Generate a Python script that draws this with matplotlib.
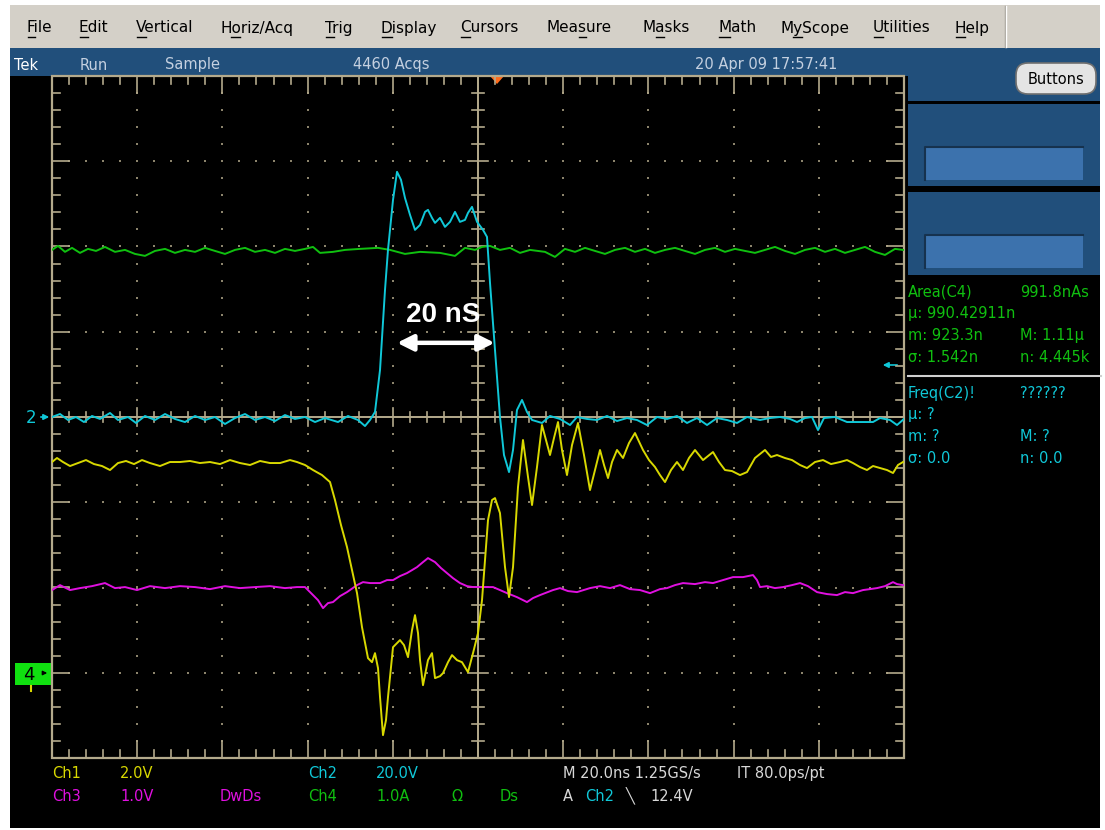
import numpy as np
import matplotlib.pyplot as plt
from matplotlib.patches import Rectangle, FancyBboxPatch, Polygon
from matplotlib.textpath import TextPath
from matplotlib.font_manager import FontProperties

# time axis in ns (20 ns/div, centre of screen = 0), levels in screen divisions
ch2_t = [-100.0, -98.12, -96.24, -94.37, -92.49, -90.61, -88.73, -86.38, -84.51, -82.16,
         -80.28, -78.17, -75.82, -73.47, -71.13, -68.78, -66.43, -64.08, -61.74, -59.39,
         -57.04, -54.69, -52.35, -50.0, -47.65, -45.31, -42.96, -40.61, -38.26, -35.92,
         -32.86, -30.52, -28.17, -26.53, -25.35, -24.18, -23.0, -21.83, -21.13, -19.95,
         -19.01, -18.08, -17.14, -15.96, -14.79, -13.61, -12.44, -11.74, -10.8, -10.09,
         -8.92, -7.75, -6.57, -5.4, -4.23, -3.05, -2.35, -1.41, -0.23, 1.17,
         2.11, 2.82, 3.99, 5.16, 6.1, 7.28, 8.22, 9.15, 10.33, 11.5,
         12.68, 15.02, 16.9, 19.25, 21.6, 23.24, 25.59, 27.93, 30.28, 32.63,
         34.98, 37.32, 39.67, 42.02, 44.37, 46.71, 49.06, 51.41, 53.76, 56.1,
         58.45, 60.8, 63.15, 66.2, 68.54, 70.89, 73.24, 74.88, 76.76, 78.4,
         79.81, 81.22, 83.8, 86.62, 89.67, 92.72, 94.37, 96.71, 98.36, 100.0]
ch2_div = [0, 0.035, -0.035, 0, -0.059, 0.012, -0.023, 0.047, -0.035, 0,
           -0.070, 0.012, -0.035, 0.035, -0.023, -0.059, 0.012, -0.035, 0, -0.082,
           -0.012, 0.035, -0.035, 0, -0.047, 0.023, -0.023, 0, -0.059, -0.012,
           -0.059, 0.012, -0.035, -0.106, -0.035, 0.059, 0.552, 1.491, 1.960, 2.547,
           2.876, 2.782, 2.570, 2.371, 2.195, 2.253, 2.406, 2.430, 2.336, 2.277,
           2.336, 2.230, 2.289, 2.406, 2.289, 2.312, 2.394, 2.465, 2.289, 2.195,
           2.113, 1.573, 0.786, 0, -0.446, -0.646, -0.387, 0.082, 0.200, 0.059,
           -0.035, -0.070, 0.012, -0.023, -0.094, 0, -0.023, -0.035, 0.012, -0.047,
           -0.012, -0.035, -0.094, 0, -0.023, 0.012, -0.070, -0.012, -0.094, -0.012,
           -0.035, -0.070, 0, -0.035, -0.012, 0, -0.023, -0.059, -0.012, 0,
           -0.153, -0.012, 0, -0.059, -0.059, -0.059, -0.012, -0.035, -0.094, -0.023]

ch1_t = [-100.0, -98.83, -97.42, -95.77, -93.9, -92.02, -90.14, -88.26, -86.38, -84.51,
         -82.63, -80.75, -78.87, -77.0, -74.65, -72.3, -69.95, -67.61, -65.26, -62.91,
         -60.56, -58.22, -55.87, -53.52, -51.17, -48.83, -46.48, -44.13, -42.49, -40.61,
         -38.73, -36.62, -34.74, -33.57, -32.16, -30.75, -29.58, -28.4, -27.23, -25.82,
         -24.88, -24.18, -23.47, -23.0, -22.3, -21.6, -21.13, -19.95, -18.31, -17.37,
         -16.43, -15.49, -14.79, -14.08, -13.61, -12.91, -11.74, -10.8, -10.09, -8.92,
         -8.22, -7.04, -6.1, -4.93, -3.76, -2.35, -1.17, 0.0, 0.94, 1.64,
         2.35, 3.29, 3.99, 5.16, 6.34, 7.28, 8.22, 9.39, 10.56, 11.74,
         12.68, 13.85, 15.02, 15.96, 16.9, 17.84, 18.78, 19.72, 20.89, 22.07,
         23.47, 24.88, 26.29, 27.46, 28.64, 29.58, 30.52, 31.46, 32.63, 34.04,
         35.45, 36.85, 38.73, 40.14, 41.55, 42.72, 43.9, 45.31, 46.71, 48.12,
         49.53, 50.94, 52.82, 55.16, 56.57, 57.98, 59.62, 61.5, 63.15, 65.02,
         67.37, 68.78, 70.19, 72.06, 73.71, 75.59, 77.23, 79.11, 80.99, 82.86,
         84.98, 86.62, 88.03, 89.67, 91.31, 92.72, 94.37, 96.01, 97.42, 98.59,
         99.77]
ch1_div = [-0.528, -0.481, -0.528, -0.575, -0.540, -0.505, -0.552, -0.575, -0.622, -0.540,
           -0.516, -0.552, -0.505, -0.540, -0.575, -0.528, -0.528, -0.516, -0.540, -0.528,
           -0.552, -0.505, -0.540, -0.563, -0.516, -0.540, -0.540, -0.505, -0.528, -0.563,
           -0.622, -0.681, -0.763, -0.974, -1.268, -1.526, -1.796, -2.066, -2.465, -2.829,
           -2.876, -2.770, -2.946, -3.286, -3.732, -3.556, -3.286, -2.700, -2.617, -2.676,
           -2.817, -2.500, -2.324, -2.535, -2.852, -3.146, -2.852, -2.770, -3.063, -3.040,
           -3.005, -2.876, -2.793, -2.852, -2.876, -2.993, -2.770, -2.535, -2.148, -1.678,
           -1.209, -0.974, -0.951, -1.127, -1.761, -2.113, -1.761, -0.822, -0.270, -0.704,
           -1.033, -0.587, -0.094, -0.270, -0.446, -0.246, -0.059, -0.387, -0.681, -0.329,
           -0.070, -0.446, -0.857, -0.622, -0.387, -0.563, -0.716, -0.528, -0.387, -0.481,
           -0.305, -0.188, -0.387, -0.505, -0.587, -0.681, -0.763, -0.622, -0.528, -0.622,
           -0.481, -0.387, -0.505, -0.411, -0.528, -0.622, -0.634, -0.681, -0.646, -0.481,
           -0.387, -0.469, -0.446, -0.481, -0.505, -0.563, -0.599, -0.528, -0.505, -0.552,
           -0.528, -0.505, -0.540, -0.587, -0.622, -0.575, -0.599, -0.622, -0.657, -0.563,
           -0.528]

ch3_t = [-100.0, -98.12, -95.77, -93.43, -90.61, -87.56, -85.21, -82.86, -80.05, -77.0,
         -73.47, -69.95, -66.43, -62.91, -59.39, -55.87, -52.35, -48.83, -45.31, -42.49,
         -40.61, -38.73, -37.56, -36.38, -35.21, -34.04, -32.39, -30.75, -28.4, -27.0,
         -25.35, -23.0, -21.36, -19.95, -18.31, -16.67, -15.49, -14.32, -12.91, -11.74,
         -10.09, -8.69, -7.28, -5.87, -4.23, -2.58, -1.17, 1.17, 3.52, 5.16,
         6.81, 9.15, 11.5, 12.91, 14.55, 17.61, 19.25, 21.13, 23.24, 26.29,
         28.64, 30.99, 33.33, 35.68, 38.03, 40.38, 42.72, 44.37, 46.24, 48.12,
         50.94, 53.29, 55.16, 57.51, 59.86, 62.21, 64.55, 65.49, 66.2, 67.84,
         69.72, 71.6, 73.71, 75.59, 77.46, 79.58, 81.92, 84.27, 86.15, 88.03,
         90.38, 92.02, 93.66, 95.54, 97.42, 98.36, 99.77]
ch3_div = [-2.030, -1.972, -2.030, -2.007, -1.984, -1.948, -2.007, -1.995, -2.030, -1.984,
           -2.007, -1.984, -1.995, -2.019, -1.984, -2.007, -1.995, -1.984, -2.007, -1.995,
           -1.995, -2.089, -2.148, -2.242, -2.183, -2.171, -2.101, -2.054, -1.972, -1.937,
           -1.948, -1.948, -1.913, -1.913, -1.866, -1.831, -1.796, -1.761, -1.702, -1.655,
           -1.702, -1.772, -1.831, -1.890, -1.948, -1.984, -1.995, -1.995, -1.995, -2.030,
           -2.066, -2.113, -2.171, -2.124, -2.089, -2.030, -2.007, -2.042, -2.054, -2.007,
           -1.984, -2.007, -1.972, -2.019, -2.030, -2.066, -2.019, -2.007, -1.972, -1.948,
           -1.960, -1.937, -1.948, -1.913, -1.878, -1.878, -1.854, -1.913, -1.995, -1.984,
           -2.007, -1.995, -1.972, -1.948, -1.984, -2.054, -2.077, -2.089, -2.054, -2.066,
           -2.030, -2.019, -2.007, -1.984, -1.937, -1.960, -1.972]

ch4_t = [-100.0, -98.59, -96.95, -95.3, -93.43, -91.55, -89.67, -87.56, -85.21, -82.86,
         -80.52, -78.17, -75.82, -73.47, -71.13, -68.78, -66.43, -64.08, -61.74, -59.39,
         -57.04, -54.69, -52.35, -50.0, -47.65, -45.31, -42.96, -40.61, -38.73, -37.09,
         -34.04, -31.22, -27.7, -23.47, -20.66, -17.14, -13.61, -8.92, -5.4, -3.05,
         -0.7, 0.94, 2.82, 5.16, 7.51, 9.86, 12.21, 15.73, 18.07, 20.42,
         22.77, 25.12, 27.46, 29.81, 32.16, 34.51, 36.85, 39.2, 41.55, 43.9,
         46.24, 48.59, 50.94, 53.29, 55.63, 57.98, 60.33, 62.68, 65.02, 67.37,
         69.72, 72.06, 74.41, 76.76, 79.11, 81.46, 83.8, 86.15, 88.5, 90.84,
         93.19, 95.54, 97.89, 99.77]
ch4_div = [1.960, 2.007, 1.937, 1.984, 1.925, 1.972, 1.948, 1.995, 1.937, 1.960,
           1.913, 1.890, 1.948, 1.972, 1.925, 1.960, 1.937, 1.984, 1.948, 1.913,
           1.960, 1.984, 1.937, 1.960, 1.925, 1.972, 1.948, 1.972, 1.995, 1.925,
           1.937, 1.960, 1.972, 1.984, 1.960, 1.913, 1.937, 1.925, 1.890, 1.984,
           1.960, 1.995, 2.007, 1.960, 1.984, 1.925, 1.960, 1.937, 1.878, 1.972,
           1.937, 1.984, 1.948, 1.913, 1.960, 1.984, 1.937, 1.972, 1.925, 1.960,
           1.984, 1.948, 1.913, 1.960, 1.984, 1.937, 1.972, 1.948, 1.925, 1.960,
           1.995, 1.948, 1.913, 1.960, 1.984, 1.937, 1.972, 1.925, 1.960, 1.995,
           1.937, 1.901, 1.972, 1.960]

menu_items = ["File", "Edit", "Vertical", "Horiz/Acq", "Trig", "Display", "Cursors",
              "Measure", "Masks", "Math", "MyScope", "Utilities", "Help"]
menu_hotkey = [0, 0, 0, 1, 0, 0, 0, 3, 1, 0, 1, 0, 0]
menu_x = [27, 79, 136, 220, 325, 381, 460, 547, 643, 718, 780, 873, 955]

YELLOW = '#d8d800'
CYAN = '#10c8d8'
MAGENTA = '#e010e0'
GREEN = '#10c010'
GRID = '#b4aa8c'
DOT = '#8c846c'
BAR = '#214f7b'
FONT = 'DejaVu Sans'

fig = plt.figure(figsize=(11.05, 8.30), dpi=100)
fig.patch.set_facecolor('white')

ui = fig.add_axes([0, 0, 1, 1])
ui.set_xlim(0, 1105)
ui.set_ylim(830, 0)
ui.axis('off')


def box(x0, y0, x1, y1, color, z=1, **kw):
    ui.add_patch(Rectangle((x0, y0), x1 - x0, y1 - y0, facecolor=color,
                           edgecolor='none', zorder=z, **kw))


# window chrome
box(10, 76, 1100, 828, 'black')
box(10, 5, 1100, 48, '#d4d0c8')
ui.plot([1005, 1005], [6, 47], color='#a09c94', lw=1)
ui.plot([1006, 1006], [6, 47], color='white', lw=1)
box(10, 48, 1100, 76, BAR)
box(905, 48, 1100, 280, BAR)
box(905, 76, 908, 280, 'black', z=2)
box(905, 101, 1100, 104, 'black', z=2)
box(905, 186, 1100, 192, 'black', z=2)
box(905, 275, 1100, 280, 'black', z=2)
for y0, y1 in [(147, 180), (235, 268)]:
    box(925, y0, 1083, y1, '#3c72ad', z=3)
    ui.plot([925, 925, 1083], [y1, y0, y0], color='#16324e', lw=1.5, zorder=4)

btn = FancyBboxPatch((1016, 63), 80, 31, boxstyle='round,pad=0,rounding_size=12',
                     facecolor='#e4e4e4', edgecolor='#707070', lw=1.2, zorder=3)
ui.add_patch(btn)
ui.text(1056, 79, 'Buttons', ha='center', va='center', fontsize=10.5,
        family=FONT, color='black', zorder=4)

# menu bar with underlined access keys
menu_font = FontProperties(family=FONT, size=11)
px_per_pt = 100 / 72
for label, hot, x in zip(menu_items, menu_hotkey, menu_x):
    ui.text(x, 28, label, ha='left', va='center', fontproperties=menu_font, color='black')
    pre = TextPath((0, 0), label[:hot], prop=menu_font).get_extents().x1 if hot else 0
    ch = TextPath((0, 0), label[:hot + 1], prop=menu_font).get_extents().x1
    ui.plot([x + pre * px_per_pt + 1, x + ch * px_per_pt], [37, 37], color='black', lw=1)

# status line
status_col = '#c4d0e0'
ui.text(14, 65, 'Tek', ha='left', va='center', fontsize=10.5, family=FONT, color='white')
ui.text(80, 65, 'Run', ha='left', va='center', fontsize=10.5, family=FONT, color=status_col)
ui.text(165, 65, 'Sample', ha='left', va='center', fontsize=10.5, family=FONT, color=status_col)
ui.text(353, 65, '4460 Acqs', ha='left', va='center', fontsize=10.5, family=FONT, color=status_col)
ui.text(695, 65, '20 Apr 09 17:57:41', ha='left', va='center', fontsize=10.5,
        family=FONT, color=status_col)

# trigger position marker
ui.add_patch(Polygon([(490, 76), (504, 76), (497, 84)], closed=True,
                     facecolor='#ff6a1a', edgecolor='none', zorder=6))

# measurement readouts
ui.plot([908, 1101], [376, 376], color='#d0d0d0', lw=1.5)
rows_l = [('Area(C4)', 292, GREEN), ('\u00b5: 990.42911n', 313, GREEN),
          ('m: 923.3n', 335, GREEN), ('\u03c3: 1.542n', 357, GREEN),
          ('Freq(C2)!', 393, CYAN), ('\u00b5: ?', 414, CYAN),
          ('m: ?', 436, CYAN), ('\u03c3: 0.0', 458, CYAN)]
rows_r = [('991.8nAs', 292, GREEN), ('M: 1.11\u00b5', 335, GREEN),
          ('n: 4.445k', 357, GREEN), ('??????', 393, CYAN),
          ('M: ?', 436, CYAN), ('n: 0.0', 458, CYAN)]
for txt, y, c in rows_l:
    ui.text(908, y, txt, ha='left', va='center', fontsize=10.5, family=FONT, color=c)
for txt, y, c in rows_r:
    ui.text(1020, y, txt, ha='left', va='center', fontsize=10.5, family=FONT, color=c)

# channel settings along the bottom
bottom = [('Ch1', 52, 773, YELLOW), ('2.0V', 120, 773, YELLOW),
          ('Ch2', 308, 773, CYAN), ('20.0V', 376, 773, CYAN),
          ('M 20.0ns 1.25GS/s', 563, 773, '#d8d8d8'), ('IT 80.0ps/pt', 737, 773, '#d8d8d8'),
          ('Ch3', 52, 796, MAGENTA), ('1.0V', 120, 796, MAGENTA),
          ('DwDs', 220, 796, MAGENTA),
          ('Ch4', 308, 796, GREEN), ('1.0A', 376, 796, GREEN),
          ('\u03a9', 452, 796, GREEN), ('Ds', 500, 796, GREEN),
          ('A', 563, 796, '#d8d8d8'), ('Ch2', 585, 796, CYAN),
          ('\u2572', 626, 796, '#d8d8d8'), ('12.4V', 650, 796, '#d8d8d8')]
for txt, x, y, c in bottom:
    ui.text(x, y, txt, ha='left', va='center', fontsize=10.5, family=FONT, color=c)

# ground / reference markers at the left edge
ui.text(31, 418, '2', ha='center', va='center', fontsize=12, family=FONT, color=CYAN)
ui.annotate('', xy=(52, 417), xytext=(38, 417),
            arrowprops=dict(arrowstyle='-|>', color=CYAN, lw=1.2, mutation_scale=8))
box(15, 663, 52, 685, '#10e010', z=3)
ui.text(29, 675, '4', ha='center', va='center', fontsize=13, family=FONT, color='black', zorder=4)
ui.annotate('', xy=(50, 673), xytext=(40, 673),
            arrowprops=dict(arrowstyle='-|>', color='black', lw=1, mutation_scale=6), zorder=4)
ui.plot([31, 31], [686, 691], color=YELLOW, lw=1.5, zorder=4)
# trigger level marker on the right edge
ui.annotate('', xy=(880, 365), xytext=(900, 365),
            arrowprops=dict(arrowstyle='-|>', color=CYAN, lw=1.2, mutation_scale=8), zorder=6)

# graticule: 10 x 8 divisions
sc = fig.add_axes([52 / 1105, 72 / 830, 852 / 1105, 682 / 830])
sc.set_xlim(-100, 100)
sc.set_ylim(-4, 4)
sc.axis('off')
sc.patch.set_alpha(0)

for t in range(-80, 81, 20):
    if t != 0:
        ys = np.arange(-3.8, 3.81, 0.2)
        sc.scatter(np.full(ys.size, t), ys, s=2.5, marker='s', color=DOT, lw=0)
for d in range(-3, 4):
    if d != 0:
        ts = np.arange(-96, 96.1, 4)
        sc.scatter(ts, np.full(ts.size, d), s=2.5, marker='s', color=DOT, lw=0)

sc.add_patch(Rectangle((-100, -4), 200, 8, fill=False, edgecolor=GRID, lw=1.6, clip_on=False))
sc.plot([0, 0], [-4, 4], color=GRID, lw=1.4)
sc.plot([-100, 100], [0, 0], color=GRID, lw=1.4)

for t in np.arange(-96, 97, 4):
    major = abs(t) % 20 == 0
    edge = 0.2 if major else 0.09
    cen = 0.11 if major else 0.06
    sc.plot([t, t], [4, 4 - edge], color=GRID, lw=1.2)
    sc.plot([t, t], [-4, -4 + edge], color=GRID, lw=1.2)
    sc.plot([t, t], [-cen, cen], color=GRID, lw=1.2)
for d in np.arange(-3.8, 3.81, 0.2):
    major = abs(round(d * 5)) % 5 == 0
    edge = 4.0 if major else 1.8
    cen = 2.3 if major else 1.5
    sc.plot([-100, -100 + edge], [d, d], color=GRID, lw=1.2)
    sc.plot([100, 100 - edge], [d, d], color=GRID, lw=1.2)
    sc.plot([-cen, cen], [d, d], color=GRID, lw=1.2)

# waveforms
sc.plot(ch4_t, ch4_div, color=GREEN, lw=1.4, zorder=5)
sc.plot(ch3_t, ch3_div, color=MAGENTA, lw=1.4, zorder=5)
sc.plot(ch1_t, ch1_div, color=YELLOW, lw=1.4, zorder=6)
sc.plot(ch2_t, ch2_div, color=CYAN, lw=1.4, zorder=7)

# pulse width annotation
sc.text(-8.2, 1.2, '20 nS', ha='center', va='center', fontsize=20, fontweight='bold',
        family='Liberation Sans', color='white', zorder=9)
sc.annotate('', xy=(-19.0, 0.87), xytext=(3.9, 0.87),
            arrowprops=dict(arrowstyle='<|-|>', color='white', lw=3.2, mutation_scale=24,
                            shrinkA=0, shrinkB=0), zorder=9)

fig.savefig('out.png', dpi=100, facecolor='white')
